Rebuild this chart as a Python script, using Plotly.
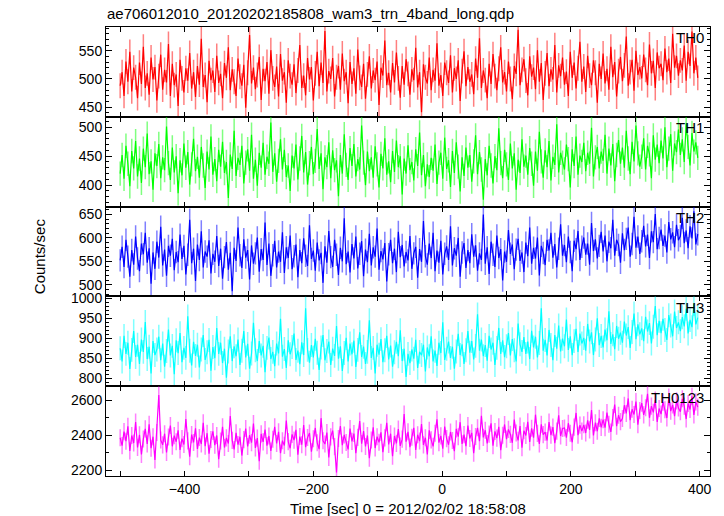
import numpy as np
import plotly.graph_objects as go
from plotly.subplots import make_subplots

# time grid (sec), 3-s bins
time = np.arange(-500, 400, 3)

th0 = [488, 512, 470, 531, 495, 548, 478, 520, 503, 466,
       529, 491, 557, 484, 510, 472, 538, 499, 521, 462,
       505, 543, 481, 516, 494, 562, 470, 527, 489, 508,
       452, 534, 501, 476, 519, 497, 546, 483, 512, 468,
       523, 490, 571, 486, 507, 459, 532, 498, 515, 477,
       541, 493, 509, 466, 528, 502, 556, 480, 517, 495,
       470, 536, 504, 488, 525, 449, 511, 578, 492, 520,
       482, 507, 539, 463, 518, 496, 530, 474, 551, 501,
       486, 522, 469, 544, 497, 512, 458, 533, 505, 490,
       526, 475, 515, 560, 484, 506, 471, 537, 499, 521,
       462, 510, 548, 487, 529, 493, 585, 478, 514, 500,
       537, 469, 503, 523, 481, 545, 496, 512, 457, 530,
       491, 519, 474, 552, 502, 486, 527, 465, 508, 540,
       483, 515, 498, 531, 454, 520, 506, 568, 489, 511,
       476, 528, 494, 547, 501, 467, 523, 490, 535, 509,
       472, 517, 498, 555, 485, 512, 441, 526, 503, 492,
       538, 480, 516, 497, 563, 488, 507, 470, 529, 511,
       493, 542, 476, 519, 500, 533, 461, 514, 549, 487,
       521, 495, 508, 473, 536, 502, 572, 484, 515, 498,
       466, 527, 491, 544, 505, 480, 518, 556, 494, 512,
       478, 531, 500, 464, 523, 509, 587, 489, 516, 535,
       497, 471, 540, 504, 520, 482, 551, 495, 528, 463,
       510, 546, 487, 517, 499, 560, 476, 524, 505, 538,
       490, 513, 470, 548, 502, 529, 483, 519, 566, 495,
       522, 477, 541, 506, 489, 533, 511, 458, 527, 500,
       545, 492, 518, 481, 557, 503, 530, 469, 514, 539,
       496, 524, 575, 488, 512, 534, 479, 550, 507, 521,
       501, 543, 516, 489, 561, 510, 532, 484, 547, 519,
       527, 498, 554, 512, 536, 493, 580, 520, 541, 506,
       533, 515, 559, 497, 548, 523, 584, 510, 538, 502]

th1 = [420, 452, 411, 468, 437, 398, 459, 429, 476, 415,
       446, 404, 463, 431, 489, 419, 441, 392, 455, 433,
       471, 412, 448, 426, 501, 438, 409, 465, 422, 450,
       386, 443, 417, 472, 430, 457, 401, 436, 480, 424,
       449, 413, 466, 434, 395, 458, 427, 484, 418, 445,
       407, 461, 432, 475, 421, 440, 378, 453, 428, 494,
       416, 447, 435, 468, 403, 439, 462, 425, 487, 411,
       444, 399, 456, 430, 473, 418, 449, 437, 508, 423,
       455, 406, 442, 479, 427, 461, 414, 434, 390, 451,
       429, 470, 410, 446, 485, 422, 457, 401, 438, 466,
       419, 442, 497, 428, 455, 393, 448, 431, 474, 412,
       460, 426, 443, 381, 452, 420, 488, 435, 409, 464,
       433, 471, 415, 445, 427, 503, 439, 400, 458, 424,
       448, 413, 467, 436, 396, 454, 429, 481, 418, 441,
       405, 459, 423, 477, 431, 450, 384, 446, 420, 469,
       426, 440, 408, 462, 433, 491, 417, 452, 398, 436,
       414, 447, 425, 470, 402, 439, 456, 411, 482, 428,
       443, 397, 459, 421, 474, 432, 389, 448, 416, 465,
       430, 452, 406, 441, 486, 419, 457, 427, 375, 445,
       417, 468, 434, 403, 450, 426, 498, 438, 412, 461,
       436, 409, 472, 429, 455, 392, 444, 421, 479, 432,
       451, 418, 464, 437, 399, 458, 425, 492, 441, 413,
       460, 431, 476, 408, 449, 435, 505, 422, 456, 439,
       427, 470, 445, 396, 462, 433, 484, 418, 451, 440,
       473, 424, 456, 437, 499, 415, 448, 466, 429, 458,
       442, 487, 420, 463, 434, 471, 407, 452, 478, 437,
       465, 430, 494, 446, 419, 475, 441, 503, 455, 432,
       449, 481, 427, 468, 453, 412, 486, 444, 470, 438,
       477, 446, 500, 431, 463, 488, 425, 472, 457, 496,
       452, 479, 440, 507, 466, 434, 490, 458, 474, 447]

th2 = [552, 581, 538, 596, 560, 517, 574, 543, 603, 556,
       529, 588, 565, 611, 547, 578, 502, 569, 534, 592,
       558, 624, 541, 575, 519, 583, 562, 598, 531, 570,
       548, 607, 555, 583, 522, 564, 639, 546, 577, 508,
       586, 553, 614, 537, 571, 560, 595, 524, 566, 549,
       604, 540, 577, 513, 559, 591, 532, 568, 486, 579,
       551, 622, 563, 536, 597, 558, 574, 511, 584, 545,
       567, 601, 528, 576, 553, 633, 542, 588, 519, 563,
       594, 537, 571, 549, 612, 525, 580, 557, 605, 533,
       561, 586, 516, 574, 546, 599, 562, 540, 627, 555,
       573, 530, 590, 552, 568, 504, 582, 547, 615, 559,
       538, 596, 564, 521, 579, 550, 642, 544, 571, 526,
       587, 556, 603, 535, 566, 593, 518, 575, 548, 609,
       541, 580, 560, 620, 532, 572, 554, 589, 507, 565,
       596, 546, 577, 527, 613, 559, 585, 539, 570, 552,
       604, 534, 567, 581, 515, 576, 549, 636, 561, 543,
       588, 557, 611, 529, 573, 547, 594, 522, 566, 582,
       553, 625, 541, 578, 562, 600, 517, 569, 589, 536,
       574, 546, 608, 560, 584, 530, 567, 553, 650, 545,
       580, 523, 592, 564, 538, 605, 557, 576, 509, 571,
       549, 617, 566, 586, 533, 575, 598, 551, 569, 527,
       590, 561, 622, 545, 579, 556, 601, 520, 583, 568,
       542, 596, 573, 611, 558, 587, 537, 577, 629, 562,
       585, 548, 603, 570, 529, 594, 576, 615, 553, 581,
       601, 564, 588, 543, 632, 572, 597, 556, 583, 613,
       571, 605, 550, 592, 578, 639, 562, 596, 585, 547,
       610, 574, 598, 622, 560, 587, 645, 579, 603, 566,
       593, 626, 582, 607, 557, 614, 591, 651, 576, 600,
       618, 583, 605, 569, 634, 597, 612, 580, 628, 595,
       604, 643, 589, 616, 578, 625, 599, 657, 586, 608]

th3 = [875, 842, 906, 861, 889, 823, 871, 918, 853, 884,
       836, 897, 866, 941, 848, 879, 812, 893, 858, 872,
       904, 845, 887, 829, 868, 922, 857, 881, 810, 895,
       863, 913, 840, 876, 851, 955, 869, 832, 891, 856,
       884, 827, 872, 908, 846, 865, 896, 819, 878, 850,
       926, 861, 889, 838, 874, 801, 867, 905, 843, 880,
       855, 897, 833, 869, 918, 852, 886, 824, 862, 939,
       870, 843, 893, 857, 881, 815, 876, 902, 848, 866,
       830, 887, 862, 949, 854, 873, 826, 895, 860, 878,
       912, 846, 869, 835, 890, 858, 975, 871, 839, 883,
       852, 899, 864, 821, 877, 908, 845, 868, 892, 833,
       874, 856, 931, 849, 880, 818, 863, 901, 842, 887,
       860, 894, 828, 871, 915, 853, 879, 836, 866, 945,
       851, 876, 812, 884, 859, 898, 840, 870, 906, 847,
       882, 829, 865, 891, 855, 920, 843, 874, 803, 861,
       838, 872, 849, 896, 826, 866, 858, 884, 817, 877,
       855, 905, 842, 869, 831, 889, 863, 940, 846, 874,
       892, 851, 879, 824, 867, 911, 858, 885, 836, 870,
       918, 864, 893, 847, 881, 960, 869, 897, 855, 883,
       844, 906, 872, 889, 833, 876, 926, 861, 895, 853,
       880, 913, 857, 898, 870, 842, 937, 885, 866, 903,
       861, 892, 848, 919, 877, 904, 852, 888, 975, 869,
       896, 857, 921, 883, 845, 908, 874, 932, 867, 899,
       880, 947, 871, 905, 858, 893, 924, 866, 912, 887,
       901, 869, 936, 892, 915, 858, 897, 950, 883, 906,
       877, 922, 895, 968, 886, 910, 873, 931, 899, 914,
       889, 942, 907, 928, 876, 916, 962, 898, 935, 910,
       925, 893, 954, 917, 938, 887, 929, 981, 908, 944,
       913, 949, 921, 896, 958, 932, 905, 967, 926, 940,
       918, 953, 930, 974, 912, 946, 928, 986, 935, 952]

th0123 = [2385, 2340, 2420, 2365, 2450, 2310, 2398, 2355, 2475, 2330,
          2402, 2290, 2378, 2436, 2350, 2462, 2325, 2391, 2258, 2415,
          2630, 2372, 2344, 2408, 2301, 2389, 2455, 2336, 2397, 2362,
          2428, 2315, 2380, 2346, 2492, 2367, 2276, 2403, 2358, 2439,
          2321, 2386, 2349, 2470, 2337, 2411, 2294, 2375, 2421, 2343,
          2398, 2262, 2366, 2447, 2329, 2384, 2352, 2509, 2370, 2318,
          2413, 2346, 2391, 2283, 2374, 2438, 2335, 2400, 2357, 2466,
          2327, 2383, 2251, 2407, 2361, 2432, 2340, 2395, 2309, 2376,
          2448, 2352, 2419, 2297, 2368, 2341, 2484, 2363, 2325, 2404,
          2371, 2430, 2288, 2392, 2345, 2458, 2331, 2386, 2412, 2305,
          2379, 2441, 2356, 2320, 2497, 2368, 2349, 2415, 2272, 2390,
          2426, 2334, 2186, 2381, 2452, 2343, 2401, 2358, 2318, 2437,
          2364, 2409, 2296, 2387, 2480, 2351, 2423, 2335, 2398, 2268,
          2372, 2445, 2326, 2391, 2359, 2416, 2302, 2384, 2471, 2347,
          2408, 2279, 2395, 2353, 2434, 2338, 2377, 2521, 2362, 2419,
          2331, 2388, 2442, 2315, 2402, 2366, 2463, 2344, 2385, 2290,
          2427, 2373, 2336, 2411, 2490, 2357, 2396, 2322, 2449, 2380,
          2345, 2418, 2369, 2308, 2436, 2391, 2474, 2350, 2403, 2337,
          2455, 2381, 2413, 2296, 2392, 2442, 2365, 2511, 2387, 2428,
          2352, 2406, 2468, 2339, 2421, 2383, 2447, 2314, 2399, 2461,
          2377, 2433, 2404, 2356, 2489, 2412, 2370, 2452, 2328, 2425,
          2398, 2476, 2361, 2439, 2385, 2517, 2410, 2350, 2462, 2403,
          2417, 2369, 2475, 2400, 2446, 2354, 2423, 2514, 2395, 2438,
          2441, 2386, 2468, 2411, 2359, 2446, 2527, 2400, 2457, 2423,
          2459, 2412, 2485, 2430, 2543, 2398, 2471, 2422, 2496, 2444,
          2488, 2443, 2529, 2462, 2418, 2500, 2575, 2451, 2514, 2477,
          2495, 2571, 2524, 2610, 2486, 2548, 2518, 2592, 2460, 2541,
          2583, 2516, 2557, 2637, 2499, 2566, 2530, 2601, 2475, 2552,
          2520, 2589, 2545, 2498, 2618, 2537, 2573, 2509, 2596, 2555,
          2534, 2608, 2566, 2492, 2581, 2547, 2622, 2515, 2590, 2560]

series = [th0, th1, th2, th3, th0123]
labels = ["TH0", "TH1", "TH2", "TH3", "TH0123"]
errors = [22, 21, 24, 30, 49]
colors = ["#ff0000", "#00ff00", "#0000ff", "#00ffff", "#ff00ff"]
light = ["rgba(255,0,0,0.5)", "rgba(0,255,0,0.5)", "rgba(0,0,255,0.5)",
         "rgba(0,255,255,0.5)", "rgba(255,0,255,0.5)"]
yranges = [[433, 592], [363, 518], [475, 667], [780, 1005], [2166, 2680]]
ydticks = [50, 50, 50, 50, 200]
yminor = [10, 10, 10, 10, 100]

FONT = "Liberation Sans, Arial, Helvetica, sans-serif"

fig = make_subplots(rows=5, cols=1, shared_xaxes=True, vertical_spacing=0)

for i in range(5):
    fig.add_trace(go.Scatter(
        x=time, y=series[i], mode="lines",
        line=dict(color=colors[i], width=1.2),
        error_y=dict(type="constant", value=errors[i], color=light[i],
                     thickness=1.5, width=0),
        showlegend=False, hoverinfo="skip"), row=i + 1, col=1)
    fig.update_yaxes(range=yranges[i], dtick=ydticks[i], tick0=0,
                     ticks="inside", ticklen=6, tickcolor="black",
                     minor=dict(dtick=yminor[i], ticks="inside", ticklen=3,
                                tickcolor="black"),
                     showline=True, linecolor="black", linewidth=1,
                     mirror="ticks", showgrid=False, zeroline=False,
                     tickfont=dict(size=14, color="black", family=FONT),
                     row=i + 1, col=1)
    fig.update_xaxes(range=[-522, 416], dtick=200, tick0=0,
                     ticks="inside", ticklen=5, tickcolor="black",
                     minor=dict(dtick=100, ticks="inside", ticklen=5,
                                tickcolor="black"),
                     showline=True, linecolor="black", linewidth=1,
                     mirror="ticks", showgrid=False, zeroline=False,
                     tickfont=dict(size=14, color="black", family=FONT),
                     row=i + 1, col=1)

# panel labels
H = 1.0 / 5
for i in range(5):
    top = 1 - i * H
    fig.add_annotation(text=labels[i], xref="paper", yref="paper",
                       x=0.9935, y=top - 0.001, xanchor="right", yanchor="top",
                       showarrow=False,
                       font=dict(size=15, color="black", family=FONT))

fig.add_annotation(text="Counts/sec", xref="paper", yref="paper",
                   x=-0.109, y=0.49, textangle=-90, showarrow=False,
                   xanchor="center", yanchor="middle",
                   font=dict(size=15, color="black", family=FONT))
fig.add_annotation(text="Time [sec] 0 = 2012/02/02 18:58:08",
                   xref="paper", yref="paper", x=0.5, y=-0.049,
                   xanchor="center", yanchor="top", showarrow=False,
                   font=dict(size=15, color="black", family=FONT))

fig.update_layout(
    width=724, height=516,
    margin=dict(l=106, r=14, t=27, b=40),
    paper_bgcolor="white", plot_bgcolor="white",
    font=dict(family=FONT, size=14, color="black"),
    title=dict(text="ae706012010_20120202185808_wam3_trn_4band_long.qdp",
               x=107 / 724, xanchor="left", y=1 - 14 / 516, yanchor="middle",
               font=dict(size=15, color="black", family=FONT)),
)

fig.write_html("out.html",
               config={"displayModeBar": False},
               post_script="document.body.style.margin='0';"
                           "document.body.style.overflow='hidden';")
